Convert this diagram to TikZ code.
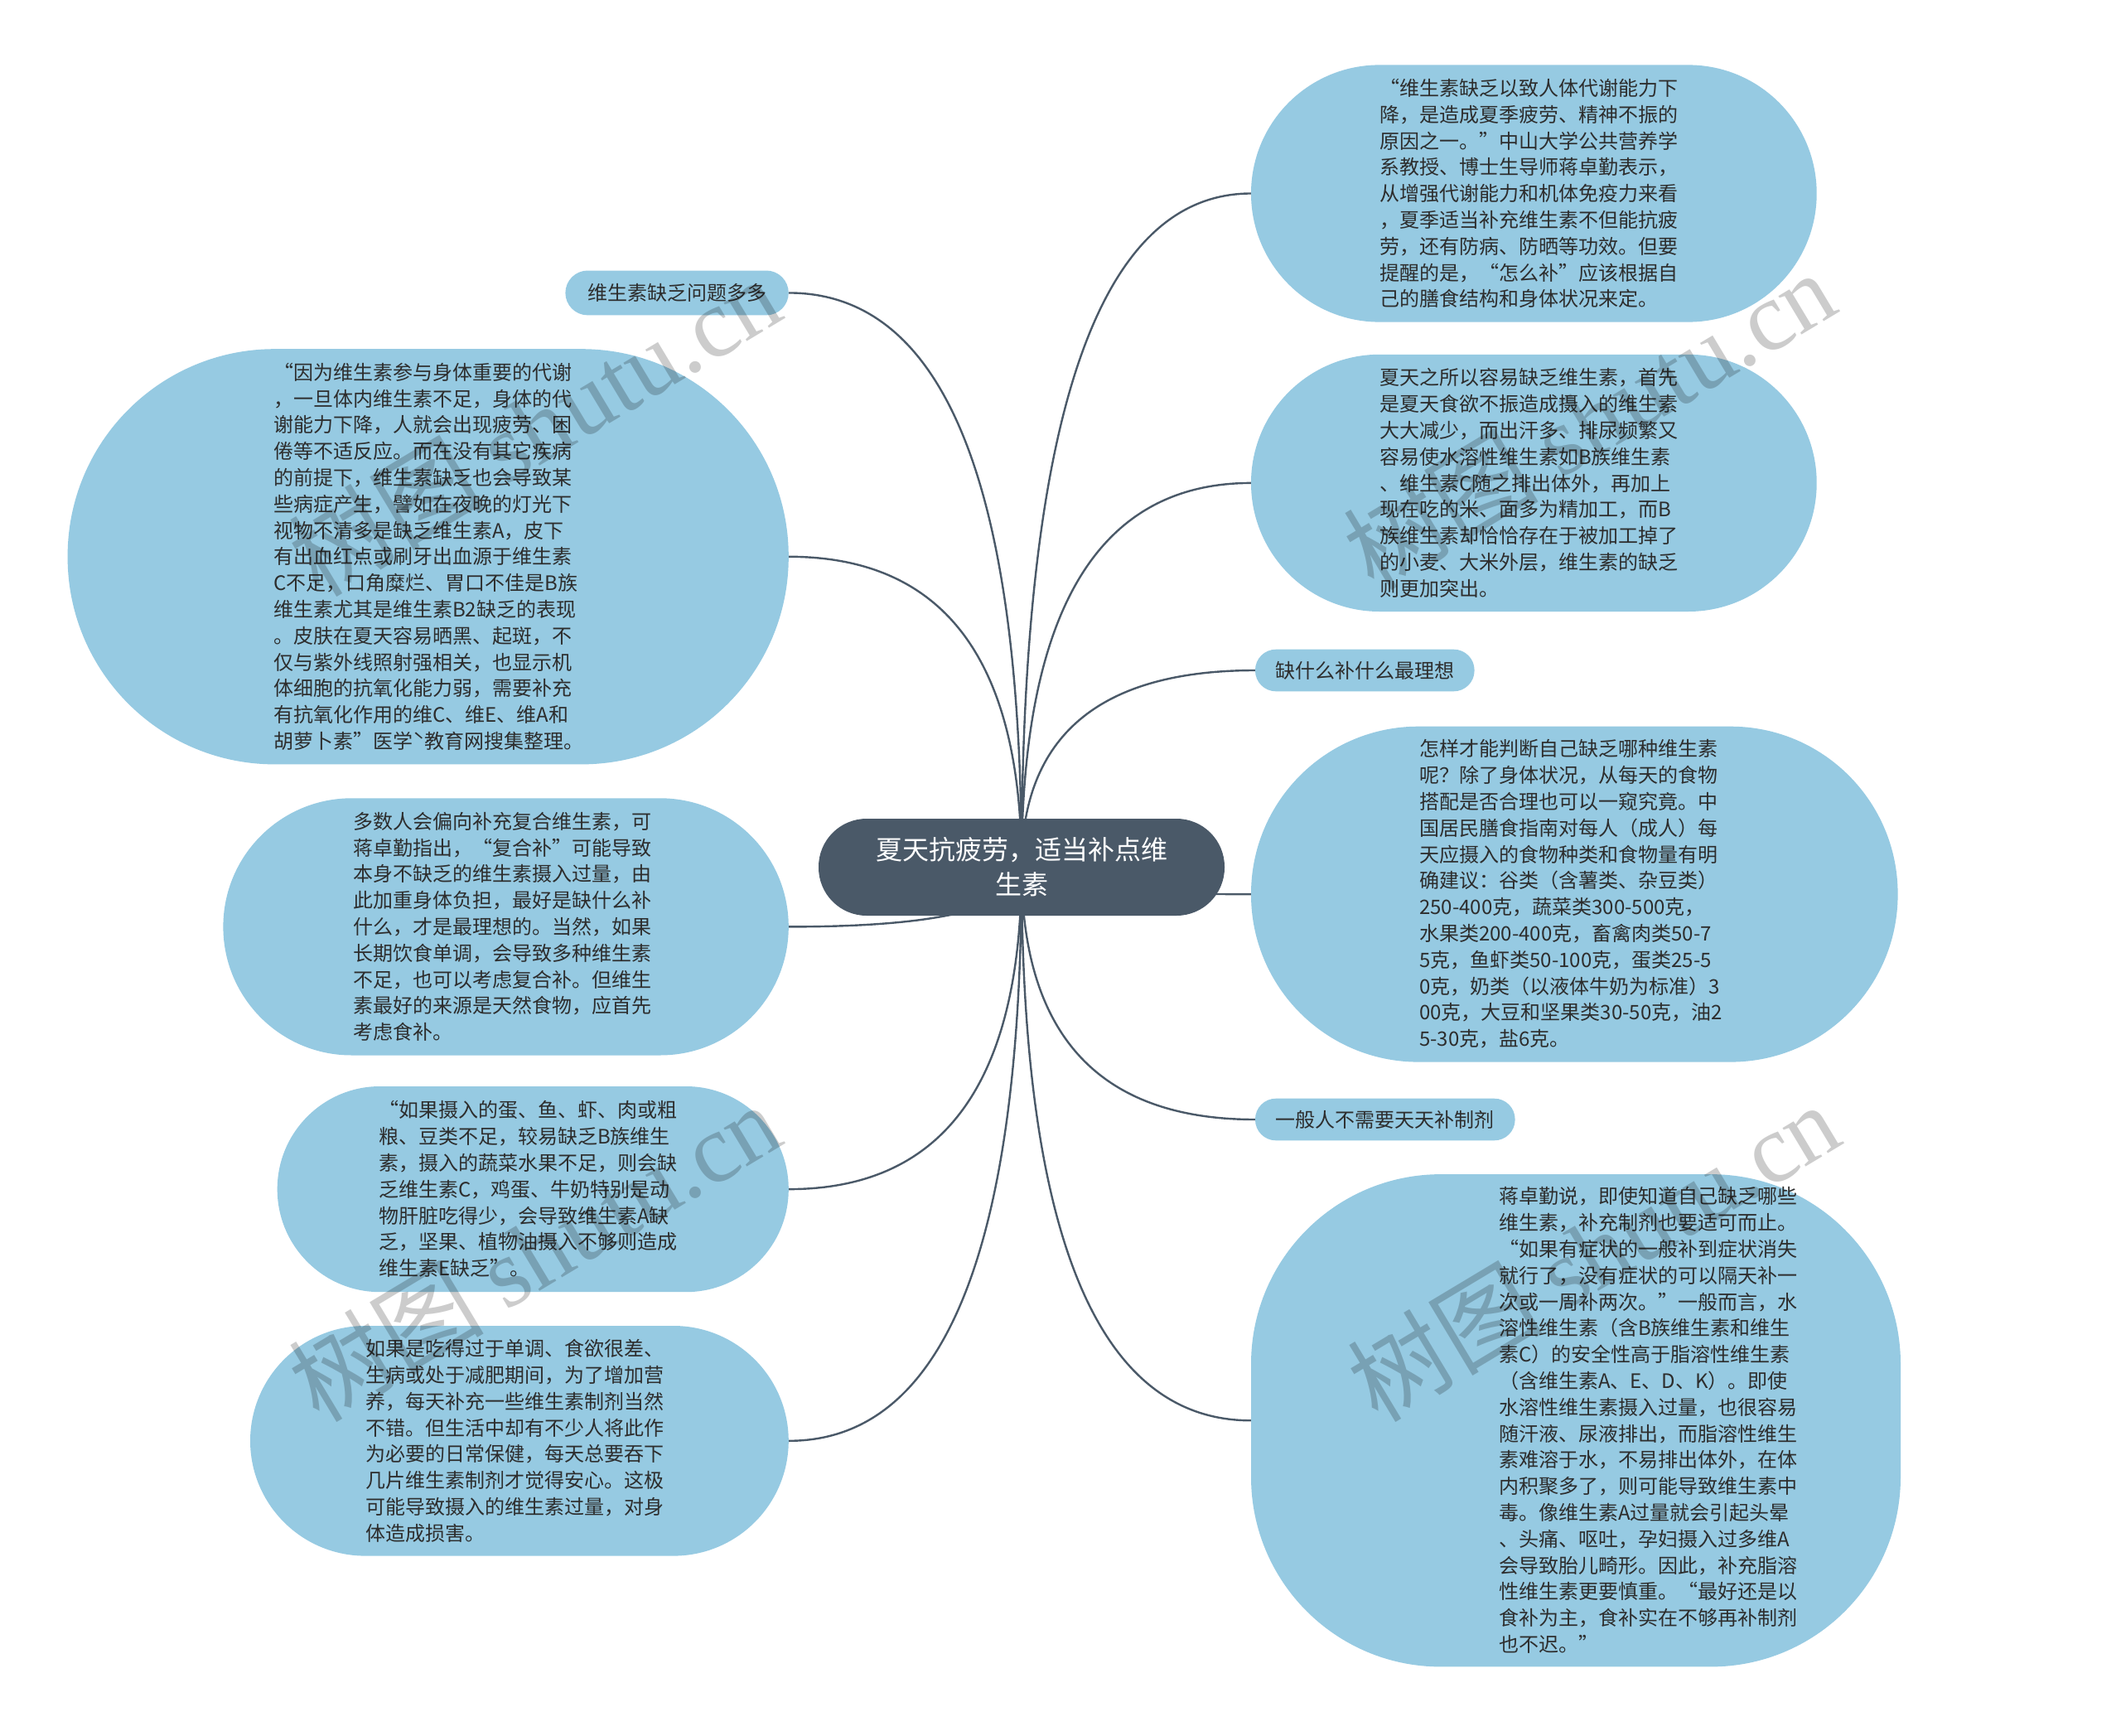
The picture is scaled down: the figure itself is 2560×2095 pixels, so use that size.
\documentclass[tikz,border=0pt]{standalone}
\usepackage{fontspec}
\setmainfont{Noto Sans CJK SC}
\newfontfamily\wmlat{Liberation Serif}
\usetikzlibrary{calc}
\definecolor{bubc}{RGB}{150,202,226}
\definecolor{darkc}{RGB}{74,89,104}
\definecolor{txtc}{RGB}{45,45,45}
\pgfdeclarelayer{back}
\pgfdeclarelayer{bg}
\pgfsetlayers{back,bg,main}
% #1 name, #2 x1, #3 y1, #4 x2, #5 y2, #6 rx, #7 ry
\newcommand\bubl[7]{%
  \fill[bubc] (#2+#6,#3) -- (#4-#6,#3)
    arc[start angle=-90,end angle=0,x radius=#6,y radius=#7] -- (#4,#5-#7)
    arc[start angle=0,end angle=90,x radius=#6,y radius=#7] -- (#2+#6,#5)
    arc[start angle=90,end angle=180,x radius=#6,y radius=#7] -- (#2,#3+#7)
    arc[start angle=180,end angle=270,x radius=#6,y radius=#7] -- cycle;
  \node[inner sep=0pt, minimum width=#4pt-#2pt, minimum height=#5pt-#3pt] (#1) at ({(#2+#4)/2},{(#3+#5)/2}) {};
}
% #1 attach point, #2 id
\newcommand\lnk[2]{%
  \coordinate (k#2) at (c.center |- #1);
  \draw[conn] (c.center) .. controls ($(c.center)!0.667!(k#2)$) and ($(#1)!0.667!(k#2)$) .. (#1);
}
\begin{document}
\begin{tikzpicture}[x=1pt,y=-1pt,
  conn/.style={draw=darkc, line width=2.4pt},
  txt/.style={anchor=west, inner sep=0pt, align=left, text=txtc, font=\fontsize{24}{31.8}\selectfont},
  lbl/.style={inner sep=0pt, text=txtc, font=\fontsize{24}{31.8}\selectfont},
  wm/.style={inner sep=0pt, text=black, text opacity=0.2, rotate=31, font=\fontsize{118}{118}\selectfont}]
\useasboundingbox (0,0) rectangle (2560,2095);
\begin{pgfonlayer}{back}
\fill[white] (0,0) rectangle (2560,2095);
\end{pgfonlayer}

% central topic
\node[fill=darkc, rounded corners=58pt, minimum width=490pt, minimum height=117pt, inner sep=0pt,
      text=white, align=center, font=\fontsize{32}{42}\selectfont] (c) at (1233,1046.5)
      {夏天抗疲劳，适当补点维\\生素};

% right side bubbles
\bubl{r1}{1510}{78.4}{2192.7}{388.6}{155}{155}
\bubl{r2}{1510}{427.8}{2192.7}{738}{155}{155}
\bubl{r3}{1515}{783.7}{1779.6}{834.3}{25}{25}
\bubl{r4}{1510}{876.7}{2290.6}{1281.6}{202}{202}
\bubl{r5}{1515}{1325.7}{1828.6}{1376.3}{25}{25}
\bubl{r6}{1510}{1417.1}{2294}{2011.4}{229}{229}
% left side bubbles
\bubl{l1}{682.4}{326.5}{951.8}{380.4}{27}{27}
\bubl{l2}{81.6}{421.2}{951.8}{922.4}{250}{250}
\bubl{l3}{269.4}{963.3}{951.8}{1273.5}{155}{155}
\bubl{l4}{334.7}{1311}{951.8}{1559.2}{124}{124}
\bubl{l5}{302}{1600}{951.8}{1877.6}{139}{139}

% connectors
\begin{pgfonlayer}{bg}
\lnk{r1.west}{a}
\lnk{r2.west}{b}
\lnk{r3.west}{c}
\lnk{r4.west}{d}
\lnk{r5.west}{e}
\lnk{r6.west}{f}
\lnk{l1.east}{g}
\lnk{l2.east}{h}
\lnk{l3.east}{i}
\lnk{l4.east}{j}
\lnk{l5.east}{k}
\end{pgfonlayer}

% texts
\node[txt] (r1t) at (1665,233.5) {“维生素缺乏以致人体代谢能力下\\降，是造成夏季疲劳、精神不振的\\原因之一。”中山大学公共营养学\\系教授、博士生导师蒋卓勤表示，\\从增强代谢能力和机体免疫力来看\\，夏季适当补充维生素不但能抗疲\\劳，还有防病、防晒等功效。但要\\提醒的是，“怎么补”应该根据自\\己的膳食结构和身体状况来定。};
\node[txt] (r2t) at (1665,582.9) {夏天之所以容易缺乏维生素，首先\\是夏天食欲不振造成摄入的维生素\\大大减少，而出汗多、排尿频繁又\\容易使水溶性维生素如B族维生素\\、维生素C随之排出体外，再加上\\现在吃的米、面多为精加工，而B\\族维生素却恰恰存在于被加工掉了\\的小麦、大米外层，维生素的缺乏\\则更加突出。};
\node[lbl] (r3t) at (r3.center) {缺什么补什么最理想};
\node[txt] (r4t) at (1713,1079) {怎样才能判断自己缺乏哪种维生素\\呢？除了身体状况，从每天的食物\\搭配是否合理也可以一窥究竟。中\\国居民膳食指南对每人（成人）每\\天应摄入的食物种类和食物量有明\\确建议：谷类（含薯类、杂豆类）\\250-400克，蔬菜类300-500克，\\水果类200-400克，畜禽肉类50-7\\5克，鱼虾类50-100克，蛋类25-5\\0克，奶类（以液体牛奶为标准）3\\00克，大豆和坚果类30-50克，油2\\5-30克，盐6克。};
\node[lbl] (r5t) at (r5.center) {一般人不需要天天补制剂};
\node[txt] (r6t) at (1809,1714) {蒋卓勤说，即使知道自己缺乏哪些\\维生素，补充制剂也要适可而止。\\“如果有症状的一般补到症状消失\\就行了，没有症状的可以隔天补一\\次或一周补两次。”一般而言，水\\溶性维生素（含B族维生素和维生\\素C）的安全性高于脂溶性维生素\\（含维生素A、E、D、K）。即使\\水溶性维生素摄入过量，也很容易\\随汗液、尿液排出，而脂溶性维生\\素难溶于水，不易排出体外，在体\\内积聚多了，则可能导致维生素中\\毒。像维生素A过量就会引起头晕\\、头痛、呕吐，孕妇摄入过多维A\\会导致胎儿畸形。因此，补充脂溶\\性维生素更要慎重。“最好还是以\\食补为主，食补实在不够再补制剂\\也不迟。”};
\node[lbl] (l1t) at (l1.center) {维生素缺乏问题多多};
\node[txt] (l2t) at (330,671.8) {“因为维生素参与身体重要的代谢\\，一旦体内维生素不足，身体的代\\谢能力下降，人就会出现疲劳、困\\倦等不适反应。而在没有其它疾病\\的前提下，维生素缺乏也会导致某\\些病症产生，譬如在夜晚的灯光下\\视物不清多是缺乏维生素A，皮下\\有出血红点或刷牙出血源于维生素\\C不足，口角糜烂、胃口不佳是B族\\维生素尤其是维生素B2缺乏的表现\\。皮肤在夏天容易晒黑、起斑，不\\仅与紫外线照射强相关，也显示机\\体细胞的抗氧化能力弱，需要补充\\有抗氧化作用的维C、维E、维A和\\胡萝卜素”医学ˋ教育网搜集整理。};
\node[txt] (l3t) at (426,1118.4) {多数人会偏向补充复合维生素，可\\蒋卓勤指出，“复合补”可能导致\\本身不缺乏的维生素摄入过量，由\\此加重身体负担，最好是缺什么补\\什么，才是最理想的。当然，如果\\长期饮食单调，会导致多种维生素\\不足，也可以考虑复合补。但维生\\素最好的来源是天然食物，应首先\\考虑食补。};
\node[txt] (l4t) at (457,1435) {“如果摄入的蛋、鱼、虾、肉或粗\\粮、豆类不足，较易缺乏B族维生\\素，摄入的蔬菜水果不足，则会缺\\乏维生素C，鸡蛋、牛奶特别是动\\物肝脏吃得少，会导致维生素A缺\\乏，坚果、植物油摄入不够则造成\\维生素E缺乏”。};
\node[txt] (l5t) at (441,1738.8) {如果是吃得过于单调、食欲很差、\\生病或处于减肥期间，为了增加营\\养，每天补充一些维生素制剂当然\\不错。但生活中却有不少人将此作\\为必要的日常保健，每天总要吞下\\几片维生素制剂才觉得安心。这极\\可能导致摄入的维生素过量，对身\\体造成损害。};

% watermarks
\node[wm] (w1) at (645,514) {树图 {\wmlat shutu.cn}};
\node[wm] (w2) at (1918,506) {树图 {\wmlat shutu.cn}};
\node[wm] (w3) at (645,1510) {树图 {\wmlat shutu.cn}};
\node[wm] (w4) at (1923,1510) {树图 {\wmlat shutu.cn}};
\end{tikzpicture}
\end{document}
